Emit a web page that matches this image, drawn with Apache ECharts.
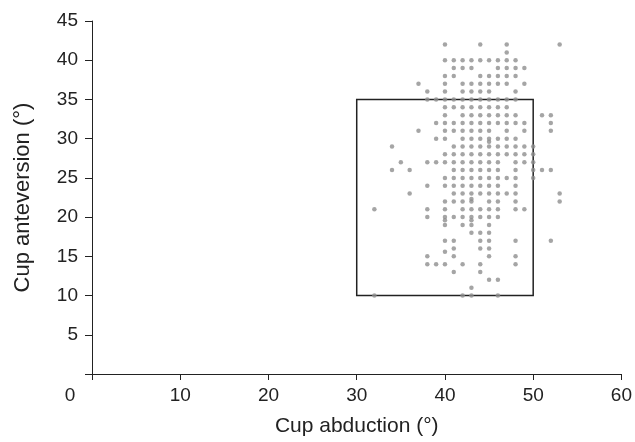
<!DOCTYPE html>
<html>
<head>
    <meta charset="utf-8">
    <script src="https://cdn.jsdelivr.net/npm/echarts@6/dist/echarts.min.js"></script>
</head>
<body style="margin:0">
<div id="main" style="width: 635px;height:442px;"></div>
<script type="text/javascript">
    // cup abduction (x) / anteversion (y), one row of the scatter per anteversion value
    var rowY = [42, 41, 40, 39, 38, 37, 36, 35, 34, 33, 32, 31, 30, 29, 28, 27, 26, 25, 24, 23, 22, 21, 20, 19, 18, 17, 16, 15.6, 15, 14, 13, 12, 11, 10,
                29.6, 22.3, 19.6];
    var rowX = [
        [40, 44, 47, 53],
        [47],
        [40, 41, 42, 43, 44, 45, 46, 47, 48],
        [41, 42, 43, 46, 47, 48, 49],
        [40, 41, 44, 45, 46, 47, 48],
        [37, 40, 42, 43, 44, 45, 46, 47, 49],
        [38, 40, 42, 43, 44, 45, 48],
        [38, 39, 40, 41, 42, 43, 44, 45, 46, 47, 48],
        [40, 41, 42, 43, 44, 45, 46, 47],
        [40, 42, 43, 44, 45, 46, 47, 48, 51, 52],
        [39, 40, 41, 42, 43, 44, 45, 46, 47, 48, 49, 52],
        [37, 40, 41, 42, 43, 44, 45, 47, 49, 52],
        [39, 40, 42, 43, 44, 45, 46, 47, 48],
        [34, 41, 42, 43, 44, 45, 46, 47, 48, 49, 50],
        [40, 41, 42, 43, 44, 45, 46, 47, 48, 49, 50],
        [35, 38, 39, 40, 41, 42, 43, 44, 45, 46, 48, 49, 50],
        [34, 36, 41, 42, 43, 44, 45, 46, 48, 50, 51, 52],
        [40, 41, 42, 43, 44, 45, 46, 47, 48, 50],
        [38, 40, 41, 42, 43, 44, 45, 46, 48],
        [36, 41, 42, 43, 44, 45, 46, 47, 48, 53],
        [40, 41, 42, 43, 45, 46, 48, 53],
        [32, 38, 40, 42, 43, 44, 45, 46, 48, 49],
        [38, 40, 41, 42, 43, 44, 45, 46],
        [40, 42, 43, 45],
        [43, 44, 45],
        [40, 41, 44, 45, 48, 52],
        [41, 44, 45],
        [40],
        [38, 41, 45, 48],
        [38, 39, 40, 42, 44, 48],
        [41, 44],
        [45, 46],
        [43],
        [32, 42, 43, 46],
        [45],
        [43],
        [40, 43]
    ];
    // safe zone box: abduction 30-50, anteversion 10-35
    var boxX = [30, 50];
    var boxY = [10, 35];
    var xTicks = [0, 60, 10];
    var yTicks = [0, 45, 5];

    var points = [];
    for (var i = 0; i < rowY.length; i++) {
        for (var j = 0; j < rowX[i].length; j++) {
            points.push([rowX[i][j], rowY[i]]);
        }
    }

    var myChart = echarts.init(document.getElementById('main'));
    var font = '"Liberation Sans", Arial, sans-serif';

    option = {
        animation: false,
        grid: {left: 92, right: 13, top: 21, bottom: 65},
        xAxis: {
            type: 'value',
            min: xTicks[0], max: xTicks[1], interval: xTicks[2],
            splitLine: {show: false},
            axisLine: {lineStyle: {color: '#222', width: 1}},
            axisTick: {length: 6, lineStyle: {color: '#222'}},
            axisLabel: {
                color: '#222', fontSize: 19, fontFamily: font, margin: 12,
                formatter: function (v) { return v === 0 ? '{z|0}' : String(v); },
                rich: {z: {padding: [0, 44, 0, 0], fontSize: 19, color: '#222', fontFamily: font}}
            },
            name: 'Cup abduction (°)',
            nameLocation: 'middle',
            nameGap: 42,
            nameTextStyle: {color: '#222', fontSize: 21, fontFamily: font}
        },
        yAxis: {
            type: 'value',
            min: yTicks[0], max: yTicks[1], interval: yTicks[2],
            splitLine: {show: false},
            axisLine: {lineStyle: {color: '#222', width: 1}},
            axisTick: {length: 7, lineStyle: {color: '#222'}},
            axisLabel: {
                color: '#222', fontSize: 19, fontFamily: font, margin: 14,
                formatter: function (v) { return v === 0 ? '' : String(v); }
            },
            name: 'Cup anteversion (°)',
            nameLocation: 'middle',
            nameGap: 58,
            nameTextStyle: {color: '#222', fontSize: 22, fontFamily: font}
        },
        series: [
            {
                type: 'scatter',
                data: points,
                symbolSize: 4.5,
                itemStyle: {color: '#8e8e8e'},
                markArea: {
                    silent: true,
                    itemStyle: {color: 'rgba(0,0,0,0)', borderColor: '#222', borderWidth: 1.5},
                    data: [[{coord: [boxX[0], boxY[0]]}, {coord: [boxX[1], boxY[1]]}]]
                }
            }
        ]
    };
    myChart.setOption(option);
</script>
</body>
</html>
